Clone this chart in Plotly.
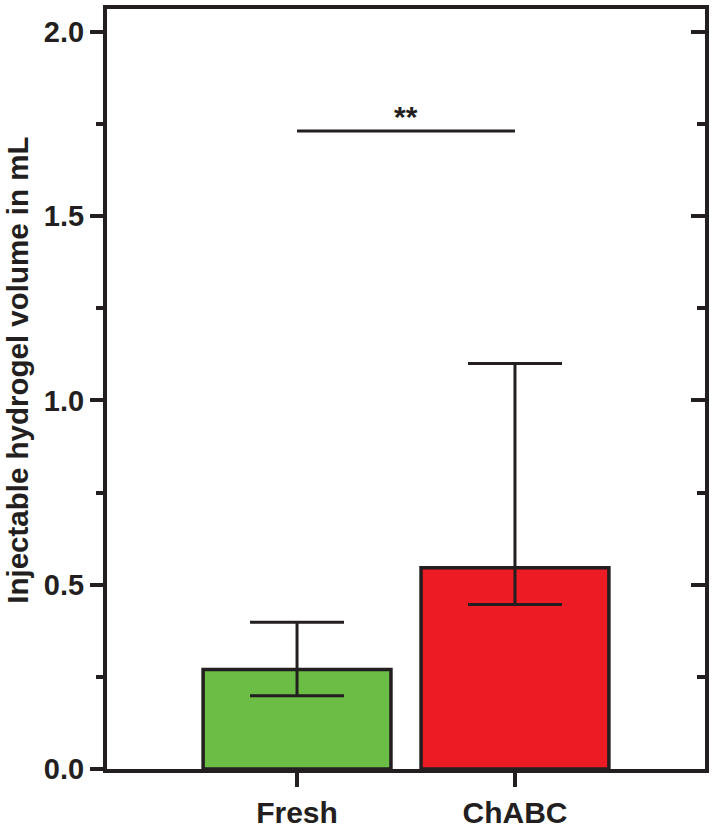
import plotly.graph_objects as go

categories = ["Fresh", "ChABC"]
means = [0.27, 0.546]
upper = [0.398, 1.10]
lower = [0.199, 0.446]
bar_colors = ["#6BBD45", "#ED1C24"]
sig_y = 1.731
sig_label = "**"
y_title = "Injectable hydrogel volume in mL"
y_ticks = [0.0, 0.5, 1.0, 1.5, 2.0]
y_ticktext = ["0.0", "0.5", "1.0", "1.5", "2.0"]

INK = "#231F20"
FONT = "Liberation Sans, Arial, sans-serif"
YR = [0, 2.062]

err_plus = [u - m for u, m in zip(upper, means)]
err_minus = [m - l for m, l in zip(means, lower)]

fig = go.Figure()
fig.add_trace(go.Bar(
    x=categories, y=means, width=0.862,
    marker=dict(color=bar_colors, line=dict(color=INK, width=3.5)),
    error_y=dict(type="data", symmetric=False, array=err_plus, arrayminus=err_minus,
                 color=INK, thickness=3, width=47),
    showlegend=False, hoverinfo="skip",
))
fig.add_trace(go.Scatter(
    x=categories, y=means, yaxis="y2", mode="markers",
    marker=dict(opacity=0), showlegend=False, hoverinfo="skip",
))

fig.add_shape(type="line", xref="x", yref="y", x0=0, x1=1, y0=sig_y, y1=sig_y,
              line=dict(color=INK, width=3))
fig.add_annotation(x=0.5, y=sig_y, xref="x", yref="y", text=sig_label, showarrow=False,
                   yanchor="bottom", yshift=-4,
                   font=dict(family=FONT, size=30, color=INK, weight="bold"))
# y-axis title
fig.add_annotation(x=0, y=0.524, xref="paper", yref="paper", text=y_title, showarrow=False,
                   textangle=-90, xanchor="center", yanchor="middle", xshift=-89,
                   font=dict(family=FONT, size=29.5, color=INK, weight="bold"))

fig.update_layout(
    width=713, height=834,
    margin=dict(l=107, r=8, t=5, b=62),
    paper_bgcolor="white", plot_bgcolor="white",
    font=dict(family=FONT, color=INK, weight="bold"),
    xaxis=dict(
        range=[-0.872, 1.872], showline=True, linewidth=4, linecolor=INK, mirror=True,
        ticks="outside", ticklen=14, tickwidth=4, tickcolor=INK,
        tickfont=dict(family=FONT, size=30, color=INK, weight="bold"),
        showgrid=False, zeroline=False, fixedrange=True,
    ),
    yaxis=dict(
        range=YR, showline=True, linewidth=4, linecolor=INK,
        tickvals=y_ticks, ticktext=y_ticktext,
        ticks="outside", ticklen=13, tickwidth=4, tickcolor=INK,
        minor=dict(ticks="outside", ticklen=7, tickwidth=4, tickcolor=INK, dtick=0.25, tick0=0),
        tickfont=dict(family=FONT, size=29, color=INK, weight="bold"),
        showgrid=False, zeroline=False, fixedrange=True,
    ),
    yaxis2=dict(
        range=YR, overlaying="y", side="right", showline=True, linewidth=4, linecolor=INK,
        tickvals=y_ticks, showticklabels=False,
        ticks="inside", ticklen=14, tickwidth=4, tickcolor=INK,
        minor=dict(ticks="inside", ticklen=8, tickwidth=4, tickcolor=INK, dtick=0.25, tick0=0),
        showgrid=False, zeroline=False, fixedrange=True,
    ),
)

fig.write_html("out.html")
